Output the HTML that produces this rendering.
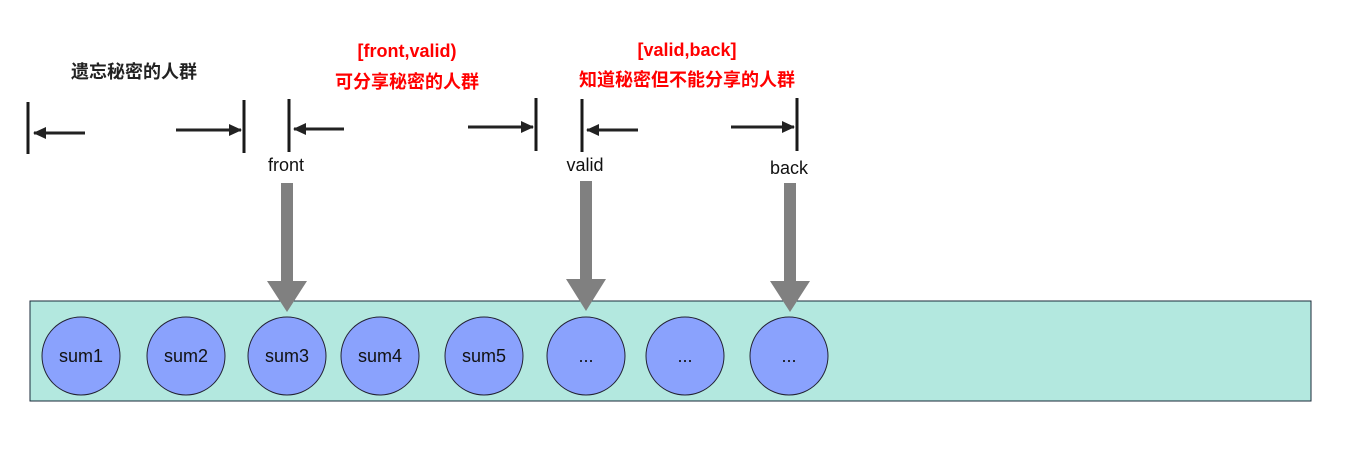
<!DOCTYPE html>
<html><head><meta charset="utf-8"><style>body{margin:0;background:#fff}</style></head><body>
<svg width="1360" height="444" xmlns="http://www.w3.org/2000/svg" font-family="'Liberation Sans','Noto Sans CJK SC',sans-serif">
<defs><marker id="a" markerWidth="13" markerHeight="12" refX="12" refY="6" orient="auto" markerUnits="userSpaceOnUse"><path d="M0,0 L13,6 L0,12 Z" fill="#222"/></marker></defs>
<g stroke="#1a1a1a" stroke-width="3">
<line x1="28" y1="102" x2="28" y2="154"/><line x1="244" y1="100" x2="244" y2="153"/>
<line x1="289" y1="99" x2="289" y2="152"/><line x1="536" y1="98" x2="536" y2="151"/>
<line x1="582" y1="99" x2="582" y2="152"/><line x1="797" y1="98" x2="797" y2="151"/>
</g>
<g stroke="#222" stroke-width="3" fill="none">
<path d="M85,133 H34" marker-end="url(#a)"/>
<path d="M176,130 H241" marker-end="url(#a)"/>
<path d="M344,129 H294" marker-end="url(#a)"/>
<path d="M468,127 H533" marker-end="url(#a)"/>
<path d="M638,130 H587" marker-end="url(#a)"/>
<path d="M731,127 H794" marker-end="url(#a)"/>
</g>
<g font-size="18" fill="#111" text-anchor="middle">
<text x="286" y="171">front</text><text x="585" y="171">valid</text><text x="789" y="174">back</text>
</g>
<g font-weight="bold" font-size="18" text-anchor="middle">
<text x="134" y="78" fill="#222">遗忘秘密的人群</text>
<text x="407" y="57" fill="#f00">[front,valid)</text>
<text x="407" y="88" fill="#f00">可分享秘密的人群</text>
<text x="687" y="56" fill="#f00">[valid,back]</text>
<text x="687" y="86" fill="#f00">知道秘密但不能分享的人群</text>
</g>
<rect x="30" y="301" width="1281" height="100" fill="#b3e8df" stroke="#1a2a3a" stroke-width="1"/>
<g fill="#808080">
<rect x="281" y="183" width="12" height="100"/><path d="M267,281 H307 L287,312 Z"/>
<rect x="580" y="181" width="12" height="100"/><path d="M566,279 H606 L586,311 Z"/>
<rect x="784" y="183" width="12" height="100"/><path d="M770,281 H810 L790,312 Z"/>
</g>
<g fill="#8aa2fd" stroke="#223" stroke-width="1">
<circle cx="81" cy="356" r="39"/><circle cx="186" cy="356" r="39"/><circle cx="287" cy="356" r="39"/>
<circle cx="380" cy="356" r="39"/><circle cx="484" cy="356" r="39"/><circle cx="586" cy="356" r="39"/>
<circle cx="685" cy="356" r="39"/><circle cx="789" cy="356" r="39"/>
</g>
<g font-size="18" fill="#111" text-anchor="middle">
<text x="81" y="362">sum1</text><text x="186" y="362">sum2</text><text x="287" y="362">sum3</text>
<text x="380" y="362">sum4</text><text x="484" y="362">sum5</text><text x="586" y="362">...</text>
<text x="685" y="362">...</text><text x="789" y="362">...</text>
</g>
</svg>
</body></html>
